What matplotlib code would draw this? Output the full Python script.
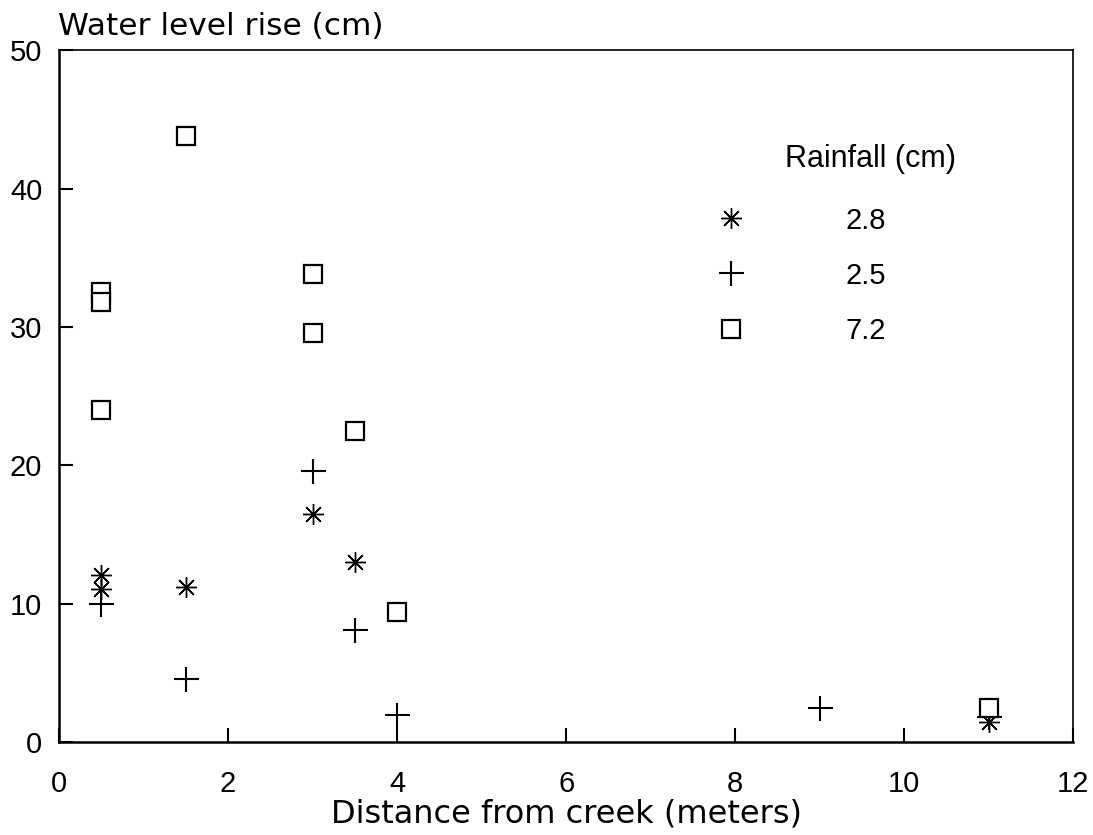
import matplotlib.pyplot as plt
from matplotlib.lines import Line2D

plt.rcParams['font.family'] = ['Liberation Sans', 'DejaVu Sans']

# Rainfall 2.8 cm (asterisk)
x_28 = [0.5, 0.5, 1.5, 3.0, 3.5, 11.0]
y_28 = [12.1, 11.1, 11.2, 16.5, 13.0, 1.5]

# Rainfall 2.5 cm (plus)
x_25 = [0.5, 1.5, 3.0, 3.5, 4.0, 9.0, 11.0]
y_25 = [10.0, 4.6, 19.6, 8.1, 2.0, 2.5, 1.8]

# Rainfall 7.2 cm (square)
x_72 = [0.5, 0.5, 0.5, 1.5, 3.0, 3.0, 3.5, 4.0, 11.0]
y_72 = [32.5, 31.8, 24.0, 43.8, 33.8, 29.6, 22.5, 9.4, 2.5]

rain_labels = ['2.8', '2.5', '7.2']
x_ticks = [0, 2, 4, 6, 8, 10, 12]
y_ticks = [0, 10, 20, 30, 40, 50]

fig = plt.figure(figsize=(10.93, 8.35), dpi=100)
ax = fig.add_axes([0.054, 0.111, 0.928, 0.829])

star = (8, 2, 0)
star_style = dict(linestyle='none', marker=star, markersize=15,
                  markeredgecolor='black', markeredgewidth=1.0)
plus_style = dict(linestyle='none', marker='+', markersize=18,
                  markeredgecolor='black', markeredgewidth=1.5)
square_style = dict(linestyle='none', marker='s', markersize=13,
                    markerfacecolor='white', markeredgecolor='black',
                    markeredgewidth=1.6)

ax.plot(x_28, y_28, **star_style)
ax.plot(x_25, y_25, **plus_style)
ax.plot(x_72, y_72, **square_style)

ax.set_xlim(0, 12)
ax.set_ylim(0, 50)
ax.set_xticks(x_ticks)
ax.set_yticks(y_ticks)
ax.tick_params(direction='in', length=10, width=1.5, labelsize=21)
ax.tick_params(axis='y', pad=12)
ax.tick_params(axis='x', pad=20)
for s in ax.spines.values():
    s.set_linewidth(1.2)
ax.spines['left'].set_linewidth(1.8)
ax.spines['bottom'].set_linewidth(1.8)

ax.set_xlabel('Distance from creek (meters)', fontsize=23,
              family='DejaVu Sans', labelpad=0)
fig.text(0.053, 0.958, 'Water level rise (cm)', fontsize=22.5,
         family='DejaVu Sans', ha='left', va='baseline')

handles = [Line2D([], [], **star_style),
           Line2D([], [], **plus_style),
           Line2D([], [], **square_style)]
leg = ax.legend(handles, rain_labels, frameon=False,
                loc='upper left', bbox_to_anchor=(0.634, 0.774),
                fontsize=21, handlelength=2.0, handletextpad=2.9,
                labelspacing=0.93, borderpad=0, borderaxespad=0)
ax.text(0.80, 0.842, 'Rainfall (cm)', transform=ax.transAxes,
        fontsize=22, ha='center', va='center')

fig.savefig('out.png', dpi=100)
